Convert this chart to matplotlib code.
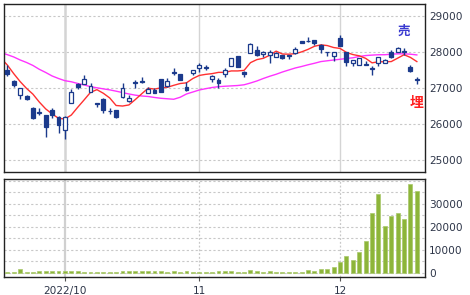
import numpy as np
import pandas as pd
import matplotlib
matplotlib.use("Agg")
import matplotlib.pyplot as plt

# trading days (futures also trade on Japanese holidays)
dates = pd.bdate_range("2022-09-20", "2022-12-19")

opens = [27490, 27195, 26800, 26780, 26430, 26310, 26240, 26380, 26180, 25825,
         26585, 27105, 27100, 26890, 26550, 26680, 26340, 26380, 26750, 26630,
         27165, 27170, 26860, 26935, 27235, 27055, 27420, 27380, 27030, 27400,
         27540, 27560, 27250, 27215, 27380, 27605, 27880, 27445, 27970, 28045,
         27930, 27910, 27860, 27910, 27890, 27970, 28305, 28290, 28325, 28185,
         27990, 27890, 28370, 27990, 27680, 27630, 27625, 27515, 27680, 27695,
         28000, 28000, 27995, 27585, 27220]
highs = [27630, 27210, 26990, 26790, 26470, 26435, 26250, 26435, 26200, 26200,
         26965, 27140, 27355, 27120, 26555, 26705, 26430, 26390, 27120, 26800,
         27215, 27305, 27030, 26985, 27240, 27260, 27540, 27390, 27165, 27500,
         27680, 27630, 27340, 27260, 27540, 27830, 27890, 27450, 28250, 28160,
         28010, 28040, 27990, 27920, 27895, 28140, 28310, 28415, 28335, 28200,
         27995, 27990, 28465, 28000, 27780, 27830, 27750, 27600, 27850, 27790,
         28045, 28140, 28095, 27630, 27290]
lows = [27325, 27010, 26680, 26650, 26120, 26240, 25640, 26160, 25750, 25570,
        26580, 26965, 27095, 26885, 26470, 26290, 26260, 26160, 26705, 26610,
        26985, 27120, 26845, 26840, 26880, 27030, 27355, 27200, 26915, 27355,
        27445, 27490, 27165, 26985, 27305, 27600, 27580, 27290, 27960, 27880,
        27860, 27680, 27850, 27810, 27790, 27935, 28245, 28270, 28185, 27955,
        27880, 27740, 28150, 27610, 27610, 27620, 27620, 27355, 27610, 27680,
        27815, 27990, 27910, 27425, 27105]
closes = [27380, 27075, 26985, 26690, 26150, 26320, 25920, 26240, 25965, 26180,
          26890, 27010, 27235, 27045, 26545, 26380, 26365, 26180, 26985, 26705,
          27120, 27165, 26955, 26845, 26890, 27195, 27435, 27215, 26935, 27490,
          27630, 27570, 27320, 27120, 27490, 27815, 27585, 27380, 28215, 27910,
          28000, 28000, 27955, 27815, 27880, 28065, 28250, 28305, 28250, 28065,
          27980, 27985, 28160, 27700, 27770, 27815, 27635, 27525, 27845, 27770,
          27860, 28095, 28005, 27465, 27210]

# moving averages, starting one day before the first candle
ma_short = [27820,
            27630, 27390, 27170, 26980, 26820, 26600, 26410, 26270, 26150, 26130,
            26240, 26455, 26660, 26870, 26945, 26845, 26715, 26505, 26490, 26520,
            26670, 26830, 26985, 26960, 26995, 27010, 27065, 27115, 27135, 27255,
            27340, 27370, 27390, 27425, 27425, 27465, 27465, 27480, 27695, 27780,
            27815, 27900, 28015, 27935, 27930, 27945, 27995, 28065, 28150, 28190,
            28170, 28115, 28090, 27980, 27920, 27885, 27815, 27690, 27720, 27720,
            27725, 27820, 27915, 27840, 27725]
ma_long = [27975,
           27917, 27853, 27770, 27700, 27617, 27510, 27422, 27325, 27255, 27194,
           27164, 27117, 27075, 27028, 26997, 26967, 26939, 26903, 26864, 26825,
           26792, 26769, 26755, 26728, 26705, 26692, 26678, 26733, 26825, 26880,
           26936, 26972, 27005, 27028, 27040, 27050, 27060, 27080, 27130, 27186,
           27255, 27317, 27372, 27436, 27492, 27547, 27589, 27636, 27678, 27725,
           27747, 27769, 27789, 27811, 27830, 27867, 27892, 27905, 27915, 27915,
           27930, 27940, 27940, 27930, 27910]

volumes = [400, 500, 1500, 400, 500, 700, 900, 700, 700, 800,
           800, 700, 500, 400, 400, 400, 300, 500, 900, 800,
           700, 700, 600, 600, 700, 500, 600, 500, 600, 500,
           400, 400, 500, 600, 800, 600, 500, 500, 1100, 600,
           500, 600, 500, 500, 400, 500, 300, 1000, 600, 1500,
           1700, 2400, 4800, 7300, 5500, 9100, 13800, 25800, 34200, 20400,
           24800, 26100, 23200, 38400, 35700]

month_labels = ["2022/10", "11", "12"]
price_ticks = [25000, 26000, 27000, 28000, 29000]
vol_ticks = [0, 10000, 20000, 30000]

navy = "#1b3a8c"
txt = "#2d3548"

o = np.array(opens)
h = np.array(highs)
l = np.array(lows)
c = np.array(closes)
x = np.arange(len(dates))
xm = np.arange(-1, len(dates))

month_pos = [i for i in range(1, len(dates)) if dates[i].month != dates[i - 1].month]

fig = plt.figure(figsize=(4.7, 2.95), dpi=100)
ax = fig.add_axes([0.0085, 0.418, 0.8957, 0.5685])
axv = fig.add_axes([0.0085, 0.060, 0.8957, 0.3322])

# price panel
for p in price_ticks:
    ax.axhline(p, color="#c8c8c8", lw=0.8, ls=(0, (2, 2)), zorder=0)
for k, m in enumerate(month_pos):
    ax.axvline(m, color="#d4d4d4", lw=1.8 if k == 0 else 1.0, zorder=0)

ax.plot(xm, ma_long, color="#ff33ff", lw=1.0, zorder=2)
ax.plot(xm, ma_short, color="#ff3030", lw=1.0, zorder=2)

ax.vlines(x, l, h, color=navy, lw=1.0, zorder=3)
up = c >= o
body = np.maximum(np.abs(c - o), 20)
ax.bar(x, body, bottom=np.minimum(o, c), width=0.62,
       color=np.where(up, "white", navy), edgecolor=navy, lw=0.9, zorder=4)

ax.set_xlim(-0.52, 65.27)
ax.set_ylim(24666, 29325)
ax.set_xticks([])
ax.yaxis.tick_right()
ax.set_yticks(price_ticks)
ax.set_yticklabels([str(p) for p in price_ticks])
ax.tick_params(axis="y", length=0, pad=3, labelsize=7.6, labelcolor=txt)

ax.text(0.950, 0.839, "売", transform=ax.transAxes, ha="center", va="center",
        color="#3a3ad0", fontsize=9, fontweight="bold",
        family=["Noto Sans CJK JP", "DejaVu Sans"])
ax.text(0.979, 0.410, "埋", transform=ax.transAxes, ha="center", va="center",
        color="#ff2020", fontsize=10, fontweight="bold",
        family=["Noto Sans CJK JP", "DejaVu Sans"])

# volume panel
for v in range(0, 40001, 5000):
    axv.axhline(v, color="#c8c8c8", lw=0.8, ls=(0, (2, 2)), zorder=0)
for k, m in enumerate(month_pos):
    if k == 0:
        axv.axvline(m, color="#d0d0d0", lw=1.6, zorder=0)
    else:
        axv.axvline(m, color="#c8c8c8", lw=0.9, ls=(0, (1.5, 1.5)), zorder=0)

axv.bar(x, volumes, width=0.62, color="#8db53a", edgecolor="#a9c96a", lw=0.5, zorder=3)

axv.set_xlim(-0.52, 65.27)
axv.set_ylim(-2000, 40610)
axv.yaxis.tick_right()
axv.set_yticks(vol_ticks)
axv.set_yticklabels([str(v) for v in vol_ticks])
axv.tick_params(axis="y", length=0, pad=3, labelsize=7.6, labelcolor=txt)
axv.set_xticks(month_pos)
axv.set_xticklabels(month_labels)
axv.tick_params(axis="x", length=3, width=0.8, color="#555555", pad=3,
                labelsize=7.6, labelcolor=txt)

for a in (ax, axv):
    for s in a.spines.values():
        s.set_color("#222222")
        s.set_linewidth(1.0)

fig.savefig("out.png", dpi=100)
